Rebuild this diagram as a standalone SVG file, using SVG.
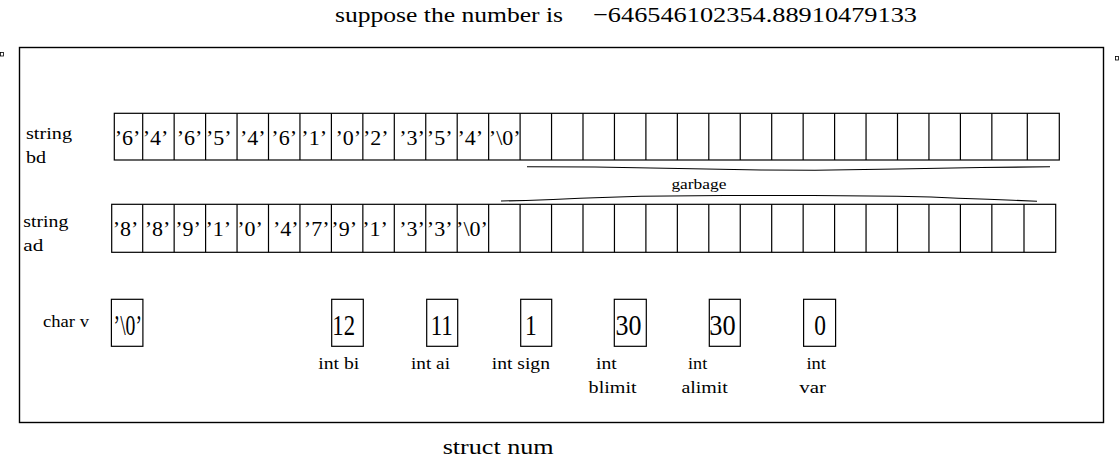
<svg xmlns="http://www.w3.org/2000/svg" width="1120" height="458" viewBox="0 0 1120 458">
<style>
text{font-family:"Liberation Serif","Times New Roman",serif;fill:#000}
.ttl{font-size:21.5px}
.cell{font-size:22px;text-anchor:middle}
.lbl{font-size:17px}
.big{font-size:30px}
.g{font-size:15px}
.box{fill:#fff;stroke:#000;stroke-width:1.2}
.div{fill:none;stroke:#000;stroke-width:1.2}
.brace{fill:none;stroke:#000;stroke-width:1.1}
</style>
<rect width="1120" height="458" fill="#fff"/>

<g id="title">
<text class="ttl" x="335" y="22" textLength="228" lengthAdjust="spacingAndGlyphs">suppose the number is</text>
<text class="ttl" x="593" y="22" textLength="324" lengthAdjust="spacingAndGlyphs">−646546102354.88910479133</text>
</g>

<g id="marks">
<rect x="0.5" y="52.5" width="3" height="3.5" fill="none" stroke="#000" stroke-width="0.8"/>
<rect x="1115.5" y="56.5" width="3" height="3.5" fill="none" stroke="#000" stroke-width="0.8"/>
</g>

<g id="struct-num">
<rect x="19.5" y="47.5" width="1084" height="375" fill="none" stroke="#000" stroke-width="1.4"/>
<text x="442.7" y="453.5" font-size="21" textLength="111" lengthAdjust="spacingAndGlyphs">struct num</text>
</g>

<g id="bd">
<text class="lbl" x="26" y="139" textLength="46" lengthAdjust="spacingAndGlyphs">string</text>
<text class="lbl" x="26" y="163" textLength="20" lengthAdjust="spacingAndGlyphs">bd</text>
<rect class="box" x="114.3" y="113.3" width="945" height="46.7"/>
<path class="div" d="M142.7 113.3V160M174.15 113.3V160M205.6 113.3V160M237.05 113.3V160M268.5 113.3V160M299.95 113.3V160M331.4 113.3V160M362.85 113.3V160M394.3 113.3V160M425.75 113.3V160M457.2 113.3V160M488.65 113.3V160M520.1 113.3V160M551.55 113.3V160M583 113.3V160M614.45 113.3V160M645.9 113.3V160M677.35 113.3V160M708.8 113.3V160M740.25 113.3V160M771.7 113.3V160M803.15 113.3V160M834.6 113.3V160M866.05 113.3V160M897.5 113.3V160M928.95 113.3V160M960.4 113.3V160M991.85 113.3V160M1027.3 113.3V160"/>
<text class="cell" x="127.5" y="145">’6’</text>
<text class="cell" x="155.5" y="145">’4’</text>
<text class="cell" x="189.5" y="145">’6’</text>
<text class="cell" x="218.8" y="145">’5’</text>
<text class="cell" x="252.8" y="145">’4’</text>
<text class="cell" x="284.2" y="145">’6’</text>
<text class="cell" x="314.2" y="145">’1’</text>
<text class="cell" x="348.3" y="145">’0’</text>
<text class="cell" x="375.8" y="145">’2’</text>
<text class="cell" x="412" y="145">’3’</text>
<text class="cell" x="439.7" y="145">’5’</text>
<text class="cell" x="470.3" y="145">’4’</text>
<text class="cell" x="504.7" y="145">’\0’</text>
</g>

<g id="garbage">
<polyline class="brace" points="527,166.7 595,167 679,168.5 761,170 815,170.3 897,169 981,167.5 1050,166.8"/>
<text class="g" x="671.4" y="189" textLength="55" lengthAdjust="spacingAndGlyphs">garbage</text>
<polyline class="brace" points="501,201 526,200.5 553,199.5 580,198.3 610,197.3 641,196.3 725,195.5 813,195.5 897,196.3 931,197 958,198.3 988,199.3 1013,200.3 1037,201.3"/>
</g>

<g id="ad">
<text class="lbl" x="23.3" y="227" textLength="45" lengthAdjust="spacingAndGlyphs">string</text>
<text class="lbl" x="23.3" y="251" textLength="20" lengthAdjust="spacingAndGlyphs">ad</text>
<rect class="box" x="111.7" y="204.3" width="944" height="48"/>
<path class="div" d="M142.7 204.3V252.3M174.15 204.3V252.3M205.6 204.3V252.3M237.05 204.3V252.3M268.5 204.3V252.3M299.95 204.3V252.3M331.4 204.3V252.3M362.85 204.3V252.3M394.3 204.3V252.3M425.75 204.3V252.3M457.2 204.3V252.3M488.65 204.3V252.3M520.1 204.3V252.3M551.55 204.3V252.3M583 204.3V252.3M614.45 204.3V252.3M645.9 204.3V252.3M677.35 204.3V252.3M708.8 204.3V252.3M740.25 204.3V252.3M771.7 204.3V252.3M803.15 204.3V252.3M834.6 204.3V252.3M866.05 204.3V252.3M897.5 204.3V252.3M928.95 204.3V252.3M960.4 204.3V252.3M991.85 204.3V252.3M1024 204.3V252.3"/>
<text class="cell" x="125.5" y="235.7">’8’</text>
<text class="cell" x="157.5" y="235.7">’8’</text>
<text class="cell" x="188" y="235.7">’9’</text>
<text class="cell" x="218.3" y="235.7">’1’</text>
<text class="cell" x="250" y="235.7">’0’</text>
<text class="cell" x="285.8" y="235.7">’4’</text>
<text class="cell" x="316.7" y="235.7">’7’</text>
<text class="cell" x="344.2" y="235.7">’9’</text>
<text class="cell" x="375" y="235.7">’1’</text>
<text class="cell" x="412" y="235.7">’3’</text>
<text class="cell" x="439.7" y="235.7">’3’</text>
<text class="cell" x="472" y="235.7">’\0’</text>
</g>

<g id="v">
<text class="lbl" x="43" y="327" textLength="46" lengthAdjust="spacingAndGlyphs">char v</text>
<rect class="box" x="111.4" y="299.3" width="31.5" height="47"/>
<text class="big" x="113.6" y="335" textLength="28.4" lengthAdjust="spacingAndGlyphs">’\0’</text>
</g>

<g id="bi">
<rect class="box" x="331.7" y="299.3" width="31.6" height="47"/>
<text class="big" x="332.3" y="335" textLength="22.7" lengthAdjust="spacingAndGlyphs">12</text>
<text class="lbl" x="318.3" y="369" textLength="41" lengthAdjust="spacingAndGlyphs">int bi</text>
</g>

<g id="ai">
<rect class="box" x="426.7" y="299.3" width="31" height="47"/>
<text class="big" x="430.7" y="335" textLength="22" lengthAdjust="spacingAndGlyphs">11</text>
<text class="lbl" x="411" y="369" textLength="39" lengthAdjust="spacingAndGlyphs">int ai</text>
</g>

<g id="sign">
<rect class="box" x="520.7" y="299.3" width="31" height="47"/>
<text class="big" x="525" y="335" textLength="11.7" lengthAdjust="spacingAndGlyphs">1</text>
<text class="lbl" x="491.7" y="369" textLength="58.3" lengthAdjust="spacingAndGlyphs">int sign</text>
</g>

<g id="blimit">
<rect class="box" x="614.3" y="299.3" width="32" height="47"/>
<text class="big" x="615.4" y="335" textLength="26" lengthAdjust="spacingAndGlyphs">30</text>
<text class="lbl" x="596" y="368.5" textLength="20.7" lengthAdjust="spacingAndGlyphs">int</text>
<text class="lbl" x="588.6" y="393" textLength="48" lengthAdjust="spacingAndGlyphs">blimit</text>
</g>

<g id="alimit">
<rect class="box" x="709.3" y="299.3" width="31" height="47"/>
<text class="big" x="709.3" y="335" textLength="26.4" lengthAdjust="spacingAndGlyphs">30</text>
<text class="lbl" x="688" y="368.5" textLength="19.2" lengthAdjust="spacingAndGlyphs">int</text>
<text class="lbl" x="681.4" y="393" textLength="46.5" lengthAdjust="spacingAndGlyphs">alimit</text>
</g>

<g id="var">
<rect class="box" x="803.6" y="299.3" width="32" height="47"/>
<text class="big" x="814.3" y="335" textLength="11.7" lengthAdjust="spacingAndGlyphs">0</text>
<text class="lbl" x="806.4" y="368.5" textLength="19.6" lengthAdjust="spacingAndGlyphs">int</text>
<text class="lbl" x="799.3" y="393" textLength="26.7" lengthAdjust="spacingAndGlyphs">var</text>
</g>

<g id="connectors"></g>
</svg>
